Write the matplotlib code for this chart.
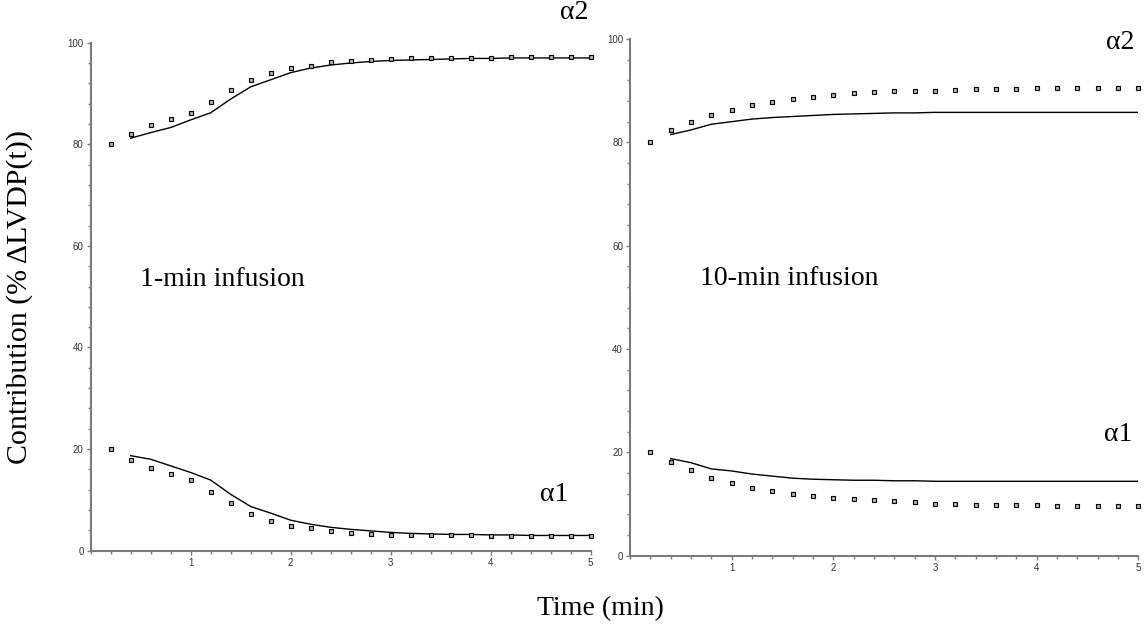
import matplotlib
matplotlib.use("Agg")
import matplotlib.pyplot as plt
from matplotlib.ticker import MultipleLocator

# time points (min)
t_obs = [0.2, 0.4, 0.6, 0.8, 1.0, 1.2, 1.4, 1.6, 1.8, 2.0, 2.2, 2.4, 2.6,
         2.8, 3.0, 3.2, 3.4, 3.6, 3.8, 4.0, 4.2, 4.4, 4.6, 4.8, 5.0]
t_fit = t_obs[1:]

# 1-min infusion
a2_obs_1 = [80.0, 82.0, 83.7, 85.0, 86.1, 88.3, 90.7, 92.6, 94.1, 95.0, 95.5, 96.1, 96.3,
            96.6, 96.8, 96.9, 97.0, 97.0, 97.0, 97.0, 97.1, 97.1, 97.1, 97.1, 97.2]
a2_fit_1 = [81.2, 82.3, 83.3, 84.8, 86.2, 88.9, 91.3, 92.7, 94.1, 95.0, 95.6, 96.0,
            96.3, 96.5, 96.6, 96.7, 96.8, 96.9, 96.9, 97.0, 97.0, 97.0, 97.0, 97.0]
a1_obs_1 = [20.0, 17.9, 16.2, 15.0, 13.9, 11.6, 9.3, 7.2, 5.8, 4.9, 4.4, 3.8, 3.4,
            3.2, 3.1, 3.0, 3.0, 3.0, 3.0, 2.9, 2.9, 2.8, 2.8, 2.8, 2.8]
a1_fit_1 = [18.7, 18.0, 16.7, 15.4, 13.9, 11.1, 8.7, 7.4, 6.0, 5.2, 4.6, 4.2,
            3.9, 3.6, 3.4, 3.3, 3.2, 3.2, 3.1, 3.1, 3.0, 3.0, 3.0, 3.0]

# 10-min infusion
a2_obs_10 = [80.0, 82.3, 83.9, 85.2, 86.3, 87.2, 87.8, 88.3, 88.7, 89.1, 89.5, 89.7, 89.9,
             90.0, 90.0, 90.2, 90.4, 90.4, 90.4, 90.6, 90.6, 90.6, 90.6, 90.6, 90.6]
a2_fit_10 = [81.5, 82.4, 83.5, 84.0, 84.5, 84.8, 85.0, 85.2, 85.4, 85.5, 85.6, 85.7,
             85.7, 85.8, 85.8, 85.8, 85.8, 85.8, 85.8, 85.8, 85.8, 85.8, 85.8, 85.8]
a1_obs_10 = [20.0, 18.1, 16.5, 15.1, 14.0, 13.1, 12.6, 12.0, 11.6, 11.2, 10.9, 10.7, 10.6,
             10.3, 10.1, 10.1, 9.9, 9.9, 9.9, 9.8, 9.7, 9.7, 9.7, 9.7, 9.6]
a1_fit_10 = [18.8, 18.0, 16.8, 16.4, 15.8, 15.4, 15.0, 14.8, 14.7, 14.6, 14.6, 14.5,
             14.5, 14.4, 14.4, 14.4, 14.4, 14.4, 14.4, 14.4, 14.4, 14.4, 14.4, 14.4]

serif = "Liberation Serif"
axis_grey = "#7a7a7a"

fig = plt.figure(figsize=(11.46, 6.25), dpi=100)
ax1 = fig.add_axes([0.0791, 0.1189, 0.4363, 0.8128])
ax2 = fig.add_axes([0.5497, 0.1109, 0.4436, 0.8267])


def style_axes(ax):
    ax.set_xlim(0, 5)
    ax.set_ylim(0, 100)
    ax.xaxis.set_major_locator(MultipleLocator(1))
    ax.xaxis.set_minor_locator(MultipleLocator(0.2))
    ax.yaxis.set_major_locator(MultipleLocator(20))
    ax.yaxis.set_minor_locator(MultipleLocator(4))
    ax.set_xticks([1, 2, 3, 4, 5])
    for side in ("top", "right"):
        ax.spines[side].set_visible(False)
    for side in ("left", "bottom"):
        ax.spines[side].set_color(axis_grey)
        ax.spines[side].set_linewidth(1.5)
    ax.tick_params(which="both", direction="out", color=axis_grey, width=1,
                   labelsize=7, labelcolor="#333333", pad=2)
    ax.tick_params(which="major", length=3)
    ax.tick_params(which="minor", length=2.5)
    for lab in ax.get_xticklabels() + ax.get_yticklabels():
        lab.set_family("Liberation Sans")


def draw(ax, a2_obs, a2_fit, a1_obs, a1_fit):
    for obs, fit in ((a2_obs, a2_fit), (a1_obs, a1_fit)):
        ax.plot(t_fit, fit, color="black", lw=1.0)
        ax.plot(t_obs, obs, linestyle="none", marker="s", markersize=2.6,
                mfc="#b0b0b0", mec="black", mew=0.8, clip_on=False)


draw(ax1, a2_obs_1, a2_fit_1, a1_obs_1, a1_fit_1)
draw(ax2, a2_obs_10, a2_fit_10, a1_obs_10, a1_fit_10)
style_axes(ax1)
style_axes(ax2)

txt = dict(family=serif, fontsize=20, color="black", clip_on=False)
ax1.text(4.84, 106, "α2", ha="center", va="center", **txt)
ax1.text(4.64, 11, "α1", ha="center", va="center", **txt)
ax1.text(0.49, 53.3, "1-min infusion", ha="left", va="center", **txt)
ax2.text(4.82, 99.4, "α2", ha="center", va="center", **txt)
ax2.text(4.80, 23.4, "α1", ha="center", va="center", **txt)
ax2.text(0.69, 53.7, "10-min infusion", ha="left", va="center", **txt)

fig.text(0.017, 0.525, "Contribution (% ΔLVDP(t))", rotation=90,
         ha="center", va="center", family=serif, fontsize=21.5)
fig.text(0.524, 0.027, "Time (min)", ha="center", va="center",
         family=serif, fontsize=20)

fig.savefig("out.png", dpi=100, facecolor="white")
